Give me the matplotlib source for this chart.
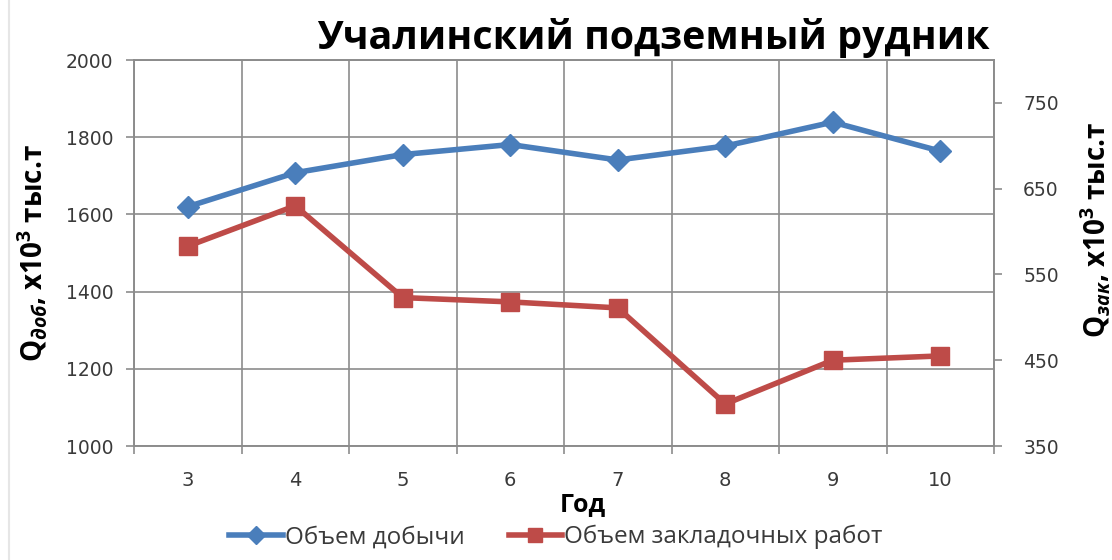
import numpy as np
import matplotlib
matplotlib.use('Agg')
import matplotlib.pyplot as plt
from matplotlib.lines import Line2D

plt.rcParams['font.family'] = ['Open Sans', 'DejaVu Sans']
plt.rcParams['mathtext.fontset'] = 'custom'
plt.rcParams['mathtext.rm'] = 'Open Sans:bold'
plt.rcParams['mathtext.it'] = 'Open Sans:italic:bold'
plt.rcParams['mathtext.bf'] = 'Open Sans:bold'

# data
years = ['3', '4', '5', '6', '7', '8', '9', '10']
dobycha = [1620, 1708, 1755, 1781, 1741, 1777, 1839, 1764]   # left axis
zaklad = [583, 630, 523, 518, 511, 399, 450, 455]            # right axis
left_ticks = [1000, 1200, 1400, 1600, 1800, 2000]
right_ticks = [350, 450, 550, 650, 750]

grid_col = '#8c8c8c'
txt_col = '#3a3a3a'
blue = '#4a7ebb'
red = '#be4b48'
tick_font = 'DejaVu Sans'

fig = plt.figure(figsize=(11.12, 5.6), dpi=100)
ax = fig.add_axes([134/1112, 1-446/560, 860/1112, 386/560])
ax2 = ax.twinx()

# faint chart-area border on the left
fig.add_artist(Line2D([9/1112, 9/1112], [0, 1], color='#e6e6e6', lw=1.5,
                      transform=fig.transFigure))

x = np.arange(len(years))

l1, = ax.plot(x, dobycha, color=blue, lw=4, marker='D', ms=11, zorder=5,
              label='Объем добычи')
l2, = ax2.plot(x, zaklad, color=red, lw=4, marker='s', ms=13, zorder=5,
               label='Объем закладочных работ')

ax.set_xlim(-0.5, len(years) - 0.5)
ax.set_ylim(1000, 2000)
ax2.set_ylim(350, 800)

ax.set_yticks(left_ticks)
ax2.set_yticks(right_ticks)
ax.set_xticks(x)
ax.set_xticklabels(years)
ax.set_xticks(np.arange(-0.5, len(years)), minor=True)

# grid: horizontal on left ticks, vertical between categories
ax.grid(axis='y', which='major', color=grid_col, lw=1.2)
ax.grid(axis='x', which='minor', color=grid_col, lw=1.2)
ax.set_axisbelow(True)

ax.tick_params(axis='x', which='major', length=0, pad=18, labelsize=14, labelcolor=txt_col)
ax.tick_params(axis='x', which='minor', length=6, width=1.2, color=grid_col, direction='out')
ax.tick_params(axis='y', length=6, width=1.2, color=grid_col, labelsize=13.5, labelcolor=txt_col, pad=9)
ax2.tick_params(axis='y', length=6, width=1.2, color=grid_col, labelsize=13.5, labelcolor=txt_col, pad=15)
for lab in ax.get_xticklabels() + ax.get_yticklabels() + ax2.get_yticklabels():
    lab.set_family(tick_font)

for a in (ax, ax2):
    for s in a.spines.values():
        s.set_color(grid_col)
        s.set_linewidth(1.2)

ax.set_xlabel('Год', fontsize=18, fontweight='bold', color='black')
ax.xaxis.set_label_coords(0.522, -0.12)
ax.set_ylabel(r'$\mathrm{Q}_{\mathit{доб}}$, x10$^{\mathrm{3}}$ тыс.т', fontsize=20,
              fontweight='bold', color='black')
ax.yaxis.set_label_coords(-0.097, 0.5)
ax2.set_ylabel(r'$\mathrm{Q}_{\mathit{зак}}$, x10$^{\mathrm{3}}$ тыс.т', fontsize=20,
               fontweight='bold', color='black')
ax2.yaxis.set_label_coords(1.098, 0.56)

fig.text(0.588, 0.932, 'Учалинский подземный рудник', fontsize=28.4, fontweight='bold',
         ha='center', va='center', color='black')

fig.legend(handles=[l1, l2], loc='center', bbox_to_anchor=(0.5, 0.041), ncol=2,
           frameon=False, fontsize=17.5, handlelength=2.2, handletextpad=0.1,
           columnspacing=1.8, labelcolor=txt_col, markerscale=0.8)

fig.savefig('out.png', dpi=100)
